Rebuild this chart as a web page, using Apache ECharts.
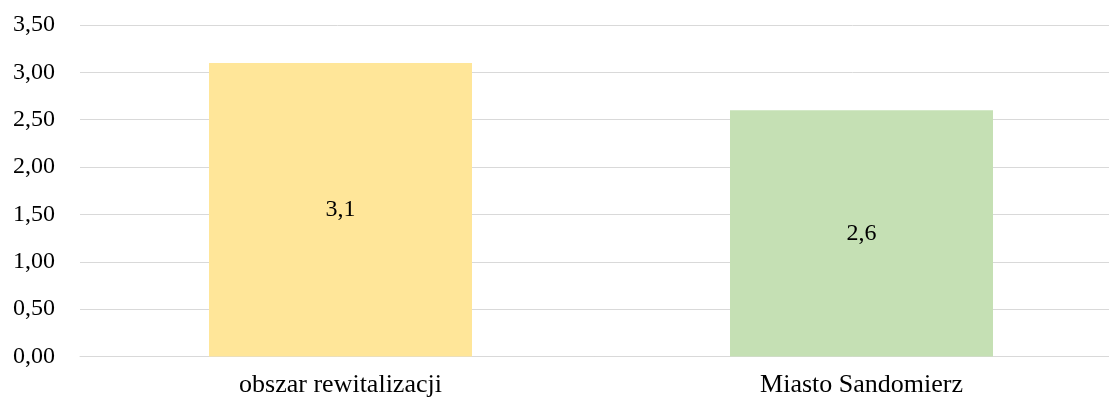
<!DOCTYPE html>
<html>
<head>
<meta charset="utf-8">
<script src="https://cdn.jsdelivr.net/npm/echarts@6/dist/echarts.min.js"></script>
<style>
  html, body { margin: 0; padding: 0; background: #fff; }
  #chart { width: 1109px; height: 401px; }
</style>
</head>
<body>
<div id="chart"></div>
<script>
// dane wykresu
const categories = ['obszar rewitalizacji', 'Miasto Sandomierz'];
const values = [3.1, 2.6];
const barColors = ['#FFE699', '#C5E0B4'];

const chart = echarts.init(document.getElementById('chart'));
const fmt = v => v.toFixed(2).replace('.', ',');

chart.setOption({
    backgroundColor: '#ffffff',
    textStyle: { fontFamily: 'Liberation Serif' },
    grid: { left: 80, width: 1042, top: 25, height: 331.5, outerBoundsMode: 'none', containLabel: false },
    xAxis: {
        type: 'category',
        data: categories,
        axisLine: { show: true, lineStyle: { color: '#d9d9d9', width: 1 } },
        axisTick: { show: false },
        axisLabel: { color: '#000', fontSize: 26, margin: 16, fontFamily: 'Liberation Serif' }
    },
    yAxis: {
        type: 'value',
        min: 0,
        max: 3.5,
        interval: 0.5,
        axisLine: { show: false },
        axisTick: { show: false },
        splitLine: { lineStyle: { color: '#d9d9d9', width: 1 } },
        axisLabel: { color: '#000', fontSize: 24, margin: 25, formatter: fmt, fontFamily: 'Liberation Serif' }
    },
    series: [{
        type: 'bar',
        barWidth: 263,
        data: values.map((v, i) => ({ value: v, itemStyle: { color: barColors[i] } })),
        label: {
            show: true,
            position: 'inside',
            color: '#000',
            fontSize: 24,
            fontFamily: 'Liberation Serif',
            formatter: p => String(p.value).replace('.', ',')
        }
    }]
});
</script>
</body>
</html>
